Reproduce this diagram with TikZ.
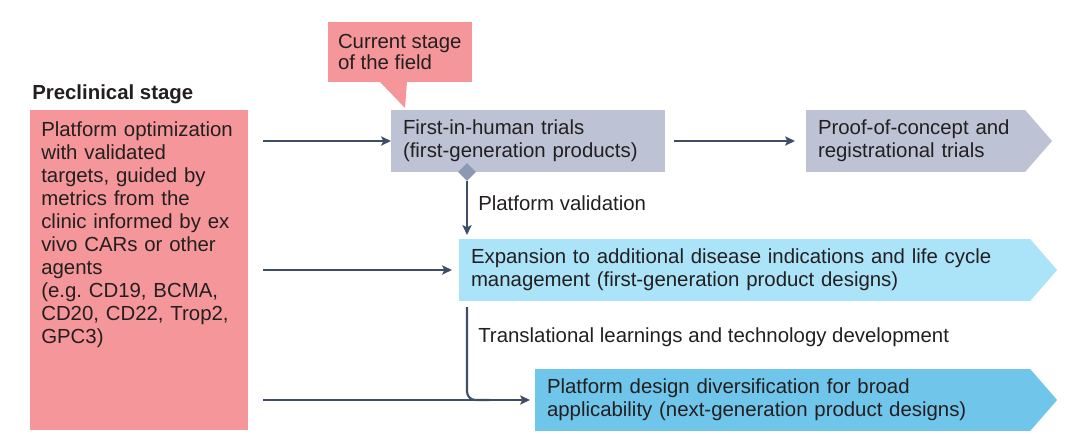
\documentclass[tikz,border=0pt]{standalone}
\usepackage{fontspec}
\setmainfont{Liberation Sans}
\usetikzlibrary{calc}
\usetikzlibrary{arrows.meta}
\usetikzlibrary{shapes.geometric}

\definecolor{pinkfill}{HTML}{F5979A}
\definecolor{greyfill}{HTML}{BDC3D4}
\definecolor{lightfill}{HTML}{ABE3F8}
\definecolor{bluefill}{HTML}{6FC5EA}
\definecolor{arrowcol}{HTML}{3E4E69}
\definecolor{diamondcol}{HTML}{8D99B3}
\definecolor{inkcol}{HTML}{231F20}

\tikzset{
 stagebox/.style={rectangle, anchor=north west, inner xsep=0.3cm, inner ysep=0pt, outer sep=0pt, minimum height=1.55cm, align=left, text=inkcol},
 flow/.style={draw=arrowcol, line width=1.5pt, -{Stealth[length=7pt, width=6.5pt, inset=1.5pt]}},
 plainlabel/.style={anchor=base west, inner sep=0pt, text=inkcol},
}

\begin{document}
\begin{tikzpicture}[x=0.025cm, y=-0.025cm, font=\fontsize{14.5}{16.4}\selectfont]
\useasboundingbox (0,0) rectangle (1080,444);

% preclinical column
\node[plainlabel, font=\fontsize{14.5}{16.4}\selectfont\bfseries] (prelabel) at (32,100) {Preclinical stage};
\node[anchor=north west, fill=pinkfill, minimum width=5.45cm, minimum height=8cm, outer sep=0pt, inner sep=0pt] (preclin) at (30,110) {};
\node[anchor=north west, align=left, inner sep=0pt, text width=5cm, text=inkcol] (pretext) at (41,121) {Platform optimization\\with validated\\targets, guided by\\metrics from the\\clinic informed by ex\\vivo CARs or other\\agents\\(e.g.\ CD19, BCMA,\\CD20, CD22, Trop2,\\GPC3)};

% callout
\node[stagebox, fill=pinkfill, inner xsep=0.25cm, minimum width=3.55cm, minimum height=1.5cm, font=\fontsize{14.5}{15}\selectfont] (current) at (328,22) {Current stage\\of the field};
\fill[pinkfill] ($(current.south west)+(52,0)$) -- (405,108) -- ($(current.south west)+(79,0)$) -- cycle;

% stages
\node[stagebox, fill=greyfill, text width=6.25cm] (fih) at (391,110) {First-in-human trials\\(first-generation products)};
\node[stagebox, fill=greyfill, text width=4.875cm] (proof) at (806,110) {Proof-of-concept and\\registrational trials};
\node[stagebox, fill=lightfill, text width=13.675cm] (expand) at (459,239) {Expansion to additional disease indications and life cycle\\management (first-generation product designs)};
\node[stagebox, fill=bluefill, text width=11.775cm] (diverse) at (535,369) {Platform design diversification for broad\\applicability (next-generation product designs)};
\foreach \n/\c in {proof/greyfill, expand/lightfill, diverse/bluefill} {
 \fill[\c] (\n.north east) -- ($(\n.east)+(27,0)$) -- (\n.south east) -- cycle;
}

% connectors
\draw[flow] ($(preclin.east |- fih.west)+(15,0)$) -- (fih.west);
\draw[flow] ($(fih.east)+(9,0)$) -- ($(proof.west)+(-11,0)$);
\draw[flow] ($(preclin.east |- expand.west)+(15,0)$) -- ($(expand.west)+(-7,0)$);
\draw[flow] ($(preclin.east |- diverse.west)+(15,0)$) -- ($(diverse.west)+(-5,0)$);

\node[diamond, fill=diamondcol, minimum size=0.45cm, inner sep=0pt] (valid) at (467,172) {};
\draw[flow] (valid) -- ($(valid |- expand.north)+(0,-4)$);
\node[plainlabel] (validlabel) at (478,211) {Platform validation};

\draw[draw=arrowcol, line width=1.5pt, rounded corners=6] ($(valid |- expand.south)+(0,6)$) |- ($(diverse.west)+(-45,0)$);
\node[plainlabel] (translabel) at (478,343) {Translational learnings and technology development};
\end{tikzpicture}
\end{document}
